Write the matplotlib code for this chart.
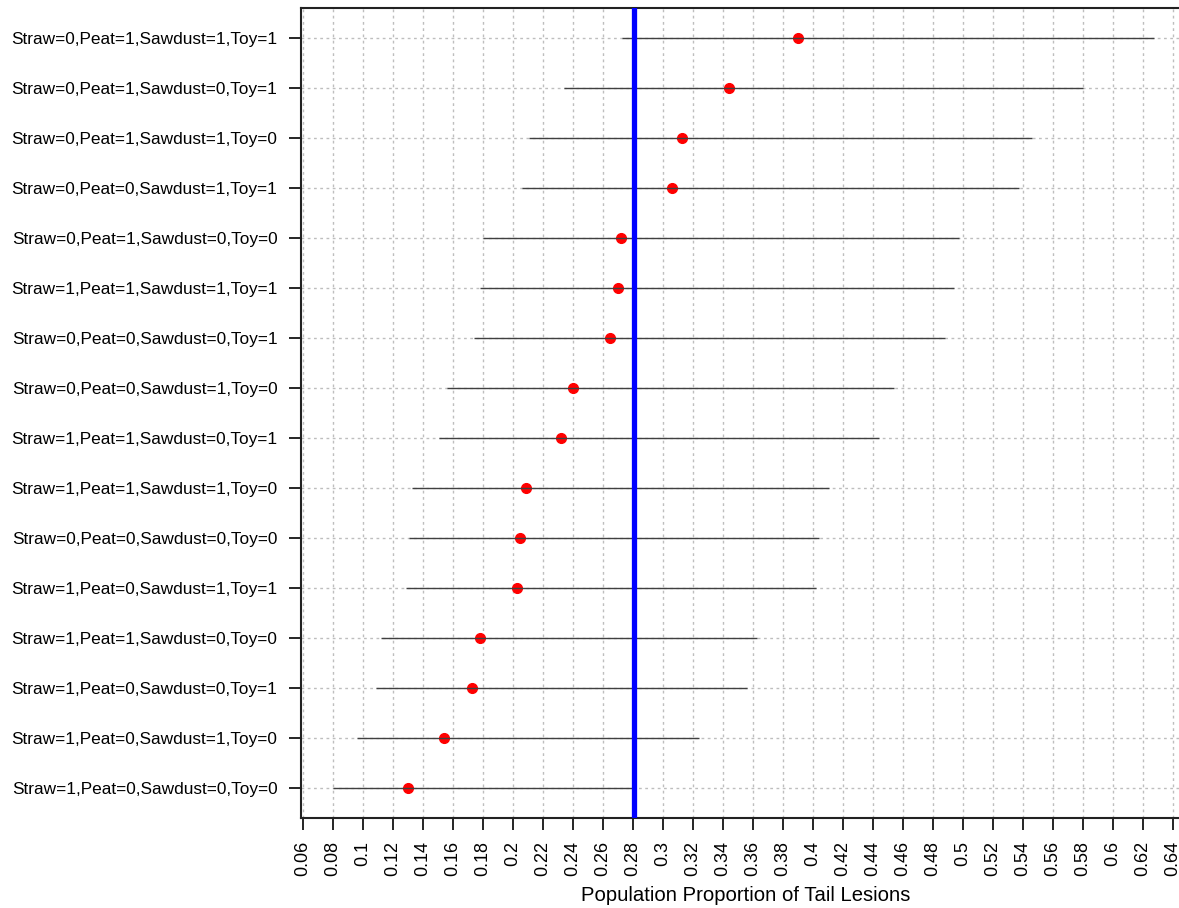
import matplotlib

matplotlib.use("Agg")
import matplotlib.pyplot as plt
import numpy as np

plt.rcParams["font.family"] = ["Liberation Sans", "DejaVu Sans"]

# treatment combinations, top to bottom
labels = [
    "Straw=0,Peat=1,Sawdust=1,Toy=1",
    "Straw=0,Peat=1,Sawdust=0,Toy=1",
    "Straw=0,Peat=1,Sawdust=1,Toy=0",
    "Straw=0,Peat=0,Sawdust=1,Toy=1",
    "Straw=0,Peat=1,Sawdust=0,Toy=0",
    "Straw=1,Peat=1,Sawdust=1,Toy=1",
    "Straw=0,Peat=0,Sawdust=0,Toy=1",
    "Straw=0,Peat=0,Sawdust=1,Toy=0",
    "Straw=1,Peat=1,Sawdust=0,Toy=1",
    "Straw=1,Peat=1,Sawdust=1,Toy=0",
    "Straw=0,Peat=0,Sawdust=0,Toy=0",
    "Straw=1,Peat=0,Sawdust=1,Toy=1",
    "Straw=1,Peat=1,Sawdust=0,Toy=0",
    "Straw=1,Peat=0,Sawdust=0,Toy=1",
    "Straw=1,Peat=0,Sawdust=1,Toy=0",
    "Straw=1,Peat=0,Sawdust=0,Toy=0",
]
estimate = [0.390, 0.344, 0.313, 0.306, 0.272, 0.270, 0.265, 0.240,
            0.232, 0.209, 0.205, 0.203, 0.178, 0.173, 0.154, 0.130]
lower = [0.273, 0.234, 0.211, 0.206, 0.180, 0.178, 0.174, 0.156,
         0.151, 0.133, 0.131, 0.129, 0.112, 0.109, 0.096, 0.080]
upper = [0.627, 0.580, 0.546, 0.537, 0.497, 0.494, 0.488, 0.454,
         0.444, 0.411, 0.404, 0.402, 0.363, 0.356, 0.324, 0.280]
overall = 0.281

x_ticks = np.round(np.arange(0.06, 0.641, 0.02), 2)
x_ticklabels = [f"{t:g}" for t in x_ticks]

fig = plt.figure(figsize=(11.79, 9.08), dpi=100)
ax = fig.add_axes([0.2553, 0.0991, 0.7549, 0.8921])

n = len(labels)
y = np.arange(n, 0, -1)

ax.set_xlim(0.0587, 0.652)
ax.set_ylim(0.4, n + 0.6)

for t in x_ticks:
    ax.axvline(t, color="#bebebe", lw=1, ls=(0, (2, 2.5)), zorder=0)
for yy in y:
    ax.axhline(yy, color="#bebebe", lw=1, ls=(0, (2, 2.5)), zorder=0)

ax.plot(estimate, y, "o", color="red", markersize=7, zorder=2)
ax.hlines(y, lower, upper, color="#404040", lw=1, zorder=3)
ax.axvline(overall, color="blue", lw=3.8, zorder=4)

ax.set_yticks(y)
ax.set_yticklabels(labels, fontsize=12.4)
ax.set_xticks(x_ticks)
ax.set_xticklabels(x_ticklabels, rotation=90, fontsize=13)
ax.tick_params(axis="y", length=9, width=1.2, pad=8)
ax.tick_params(axis="x", length=8.5, width=1.2, pad=8)
ax.set_xlabel("Population Proportion of Tail Lesions", fontsize=14.6, labelpad=7)

ax.spines["right"].set_visible(False)
for side in ("left", "top", "bottom"):
    ax.spines[side].set_linewidth(1.5)
    ax.spines[side].set_color("#222222")

fig.savefig("out.png", dpi=100)
